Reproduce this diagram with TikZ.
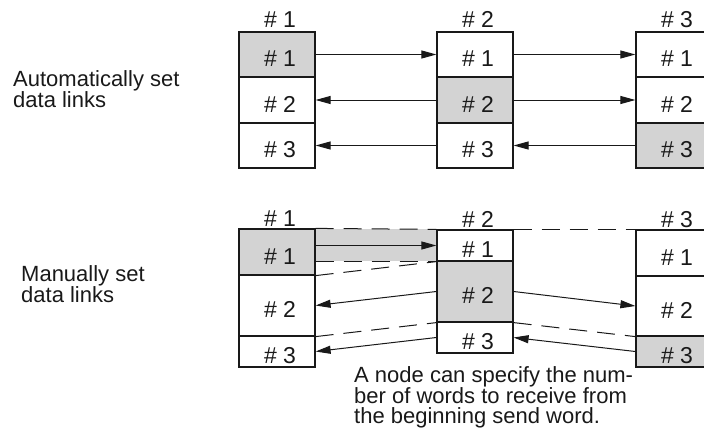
\documentclass[tikz,border=0pt]{standalone}
\usepackage{fontspec}
\setmainfont{Liberation Sans}
\usetikzlibrary{arrows.meta}
\definecolor{cellgray}{RGB}{211,211,211}
\definecolor{ink}{RGB}{25,25,25}
\begin{document}
\begin{tikzpicture}[x=1pt,y=-1pt,
  txt/.style={font=\fontsize{22}{19.5}\selectfont, text=ink, inner sep=0pt},
  big/.style={font=\fontsize{23}{20}\selectfont, text=ink, inner sep=0pt},
  cell/.style={big, draw=ink, line width=1.2pt, minimum width=76pt,
    text height=24.4pt, text depth=0pt, fill=white,
    execute at begin node=\hspace*{6pt}},
  on/.style={fill=cellgray},
  clabel/.style={big, anchor=base},
  side/.style={txt, align=left, anchor=north west},
  arr/.style={draw=ink, line width=1pt, -{Triangle[length=15pt,width=8pt]}},
  dsh/.style={draw=ink, line width=1pt, dash pattern=on 18pt off 10pt}
]
\useasboundingbox (0,0) rectangle (704,428);
\clip (0,0) rectangle (704,428);

% ---------- top: automatically set ----------
\node[cell,on,minimum height=45pt] (a1) at (277,54.5) {\# 1};
\node[cell,minimum height=46pt]    (a2) at (277,100)  {\# 2};
\node[cell,minimum height=45pt]    (a3) at (277,145.5){\# 3};
\node[cell,minimum height=45pt]    (b1) at (475,54.5) {\# 1};
\node[cell,on,minimum height=46pt] (b2) at (475,100)  {\# 2};
\node[cell,minimum height=45pt]    (b3) at (475,145.5){\# 3};
\node[cell,minimum height=45pt]    (c1) at (674,54.5) {\# 1};
\node[cell,minimum height=46pt]    (c2) at (674,100)  {\# 2};
\node[cell,on,minimum height=45pt] (c3) at (674,145.5){\# 3};

\node[clabel] (ta) at ([xshift=3pt,yshift=4pt]a1.north) {\# 1};
\node[clabel] (tb) at ([xshift=3pt,yshift=4pt]b1.north) {\# 2};
\node[clabel] (tc) at ([xshift=3pt,yshift=4pt]c1.north) {\# 3};

\draw[arr] (a1.east) -- (b1.west);
\draw[arr] (b2.west) -- (a2.east);
\draw[arr] (b3.west) -- (a3.east);
\draw[arr] (b1.east) -- (c1.west);
\draw[arr] (b2.east) -- (c2.west);
\draw[arr] (c3.west) -- (b3.east);

\node[side] (auto) at (13,70) {Automatically set\\data links};

% ---------- bottom: manually set ----------
\coordinate (bandA) at (315,229);
\coordinate (bandB) at (437,261);
\fill[cellgray] (bandA) rectangle (bandB);

\node[cell,on,minimum height=46pt] (d1) at (277,252)   {\# 1};
\node[cell,minimum height=61pt]    (d2) at (277,305.5) {\# 2};
\node[cell,minimum height=31pt]    (d3) at (277,351.5) {\# 3};
\node[cell,minimum height=31pt]    (e1) at (475,245.5) {\# 1};
\node[cell,on,minimum height=61pt] (e2) at (475,291.5) {\# 2};
\node[cell,minimum height=31pt]    (e3) at (475,337.5) {\# 3};
\node[cell,minimum height=46pt]    (f1) at (674,253)   {\# 1};
\node[cell,minimum height=60pt]    (f2) at (674,306)   {\# 2};
\node[cell,on,minimum height=31pt] (f3) at (674,351.5) {\# 3};

\node[clabel] (td) at ([xshift=3pt,yshift=2pt]d1.north) {\# 1};
\node[clabel] (te) at ([xshift=3pt,yshift=2pt]e1.north) {\# 2};
\node[clabel] (tf) at ([xshift=3pt,yshift=2pt]f1.north) {\# 3};

\draw[dsh] (d1.north east) -- (e1.north west);
\draw[dsh] (d1.east |- e1.south west) -- (e1.south west);
\draw[arr] (d1.east |- e1.west) -- (e1.west);
\draw[dsh] (d1.south east) -- (e1.south west);
\draw[arr] (e2.west) -- (d2.east);
\draw[dsh] (d2.south east) -- (e2.south west);
\draw[arr] (e3.west) -- (d3.east);

\draw[dsh] (e1.north east) -- (f1.north west);
\draw[arr] (e2.east) -- (f2.west);
\draw[dsh] (e2.south east) -- (f2.south west);
\draw[arr] (f3.west) -- (e3.east);

\node[side] (manual) at (21,265) {Manually set\\data links};

\node[side] (note) at (354,366) {A node can specify the num-\\ber of words to receive from\\the beginning send word.};
\end{tikzpicture}
\end{document}
